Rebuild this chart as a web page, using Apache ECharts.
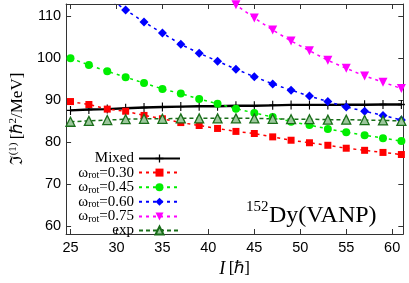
<!DOCTYPE html>
<html>
<head>
<meta charset="utf-8">
<script src="https://cdn.jsdelivr.net/npm/echarts@6/dist/echarts.min.js"></script>
<style>html,body{margin:0;padding:0;background:#fff}#c{width:409px;height:283px}</style>
</head>
<body>
<div id="c"></div>
<script>
const spins = [25,27,29,31,33,35,37,39,41,43,45,47,49,51,53,55,57,59,61];
const mixed = [87.6,87.8,87.9,88.1,88.3,88.4,88.5,88.6,88.6,88.7,88.7,88.8,88.9,88.9,88.9,88.95,88.95,89.0,89.0];
const w030 = [89.7,89.0,87.9,87.4,86.4,85.6,84.7,84.0,83.3,82.6,82.1,81.3,80.5,79.9,79.3,78.6,78.1,77.6,77.1];
const w045 = [100.0,98.4,96.9,95.5,94.1,92.7,91.6,90.3,89.2,88.0,87.0,86.0,84.9,84.1,83.2,82.4,81.7,81.0,80.3];
const w060 = [null,null,114.5,111.5,108.6,106.0,103.3,101.2,99.3,97.4,95.6,93.9,92.4,91.0,89.7,88.4,87.4,86.4,85.3];
const w075 = [null,null,null,null,null,null,null,null,116.1,112.7,109.6,106.7,104.1,101.8,99.5,97.6,95.8,94.3,92.8];
const expv = [84.9,85.1,85.3,85.5,85.6,85.6,85.7,85.7,85.7,85.7,85.7,85.6,85.5,85.5,85.4,85.4,85.3,85.2,85.1];
const xTicks = [25,30,35,40,45,50,55,60];
const yTicks = [60,70,80,90,100,110];

const pair = arr => spins.map((s,i)=>[s,arr[i]]);
const plusPath = 'path://M-0.8,-5H0.8V-0.8H5V0.8H0.8V5H-0.8V0.8H-5V-0.8H-0.8Z';
const serif = 'Liberation Serif';
const sans = 'Liberation Sans';

const legRich = {
  a:{fontFamily:serif,fontSize:15,color:'#000',lineHeight:16},
  s:{fontFamily:serif,fontSize:10,color:'#000',lineHeight:10,padding:[6,0,0,0]}
};
const nm = (w)=>'{a|ω}{s|rot}{a|='+w+'}';

function mk(name, data, color, symbol, size, lineType, extra){
  return Object.assign({
    name, type:'line', data:pair(data), symbol, symbolSize:size,
    connectNulls:false, clip:true, animation:false,
    lineStyle:{color, width:1.5, type:lineType},
    itemStyle:{color}
  }, extra||{});
}

const series = [
  mk('Mixed', mixed, '#000', plusPath, [7,9], 'solid', {lineStyle:{color:'#000',width:2.4,type:'solid'}}),
  mk('w030', w030, '#ff0000', 'rect', 7, [3,4]),
  mk('w045', w045, '#00ee00', 'circle', 8, [3,4]),
  mk('w060', w060, '#0000ff', 'diamond', 9, [3,4]),
  mk('w075', w075, '#ff00ff', 'triangle', 9, [3,4], {symbolRotate:180}),
  mk('exp', expv, '#1a6e1a', 'triangle', 9, [4,3], {itemStyle:{color:'#9cc79c',borderColor:'#1a6e1a',borderWidth:1.3}})
];

const labelMap = {Mixed:'{a|Mixed}', w030:nm('0.30'), w045:nm('0.45'), w060:nm('0.60'), w075:nm('0.75'), exp:'{a|exp}'};

const axLine = {show:true, lineStyle:{color:'#333', width:1}};
const option = {
  animation:false,
  backgroundColor:'#fff',
  grid:{left:54.7, right:5.7, top:4, bottom:41},
  xAxis:[{
    type:'value', min:24.52, max:61.21, position:'bottom',
    axisLine:axLine,
    axisTick:{inside:true, length:5, customValues:xTicks, lineStyle:{color:'#333'}},
    axisLabel:{customValues:xTicks, fontFamily:sans, fontSize:14.5, color:'#000', margin:6},
    splitLine:{show:false},
    name:'{i|I} {n|[ℏ]}', nameLocation:'middle', nameGap:26,
    nameTextStyle:{rich:{i:{fontFamily:serif,fontStyle:'italic',fontSize:18,color:'#000'},n:{fontFamily:serif,fontSize:17,color:'#000'}}}
  },{
    type:'value', min:24.52, max:61.21, position:'top',
    axisLine:axLine,
    axisTick:{inside:true, length:5, customValues:xTicks, lineStyle:{color:'#333'}},
    axisLabel:{show:false}, splitLine:{show:false}
  }],
  yAxis:[{
    type:'value', min:58.2, max:112.9, position:'left',
    axisLine:axLine,
    axisTick:{inside:true, length:5, customValues:yTicks, lineStyle:{color:'#333'}},
    axisLabel:{customValues:yTicks, fontFamily:sans, fontSize:14.5, color:'#000', margin:5},
    splitLine:{show:false},
    name:'{f|ℑ}{u|(1)} {n|[ℏ}{u|2}{n|/MeV]}', nameLocation:'middle', nameGap:31, nameRotate:90,
    nameTextStyle:{rich:{
      f:{fontFamily:'DejaVu Serif',fontSize:17,color:'#000'},
      u:{fontFamily:serif,fontSize:11,color:'#000',padding:[0,0,8,0]},
      n:{fontFamily:serif,fontSize:17,color:'#000'}
    }}
  },{
    type:'value', min:58.2, max:112.9, position:'right',
    axisLine:axLine,
    axisTick:{inside:true, length:5, customValues:yTicks, lineStyle:{color:'#333'}},
    axisLabel:{show:false}, splitLine:{show:false}
  }],
  legend:{
    orient:'vertical', align:'right', right:228, top:151, padding:0,
    itemWidth:41, itemHeight:10, itemGap:-1.4, selectedMode:false,
    data:['Mixed','w030','w045','w060','w075','exp'],
    formatter:n=>labelMap[n],
    textStyle:{rich:legRich}
  },
  graphic:[
    {type:'text', left:246, top:200, style:{text:'152', font:'15px "Liberation Serif"', fill:'#000'}},
    {type:'text', left:269, top:204, style:{text:'Dy(VANP)', font:'24px "Liberation Serif"', fill:'#000'}}
  ],
  series
};
const chart = echarts.init(document.getElementById('c'), null, {renderer:'canvas'});
chart.setOption(option);
</script>
</body>
</html>
